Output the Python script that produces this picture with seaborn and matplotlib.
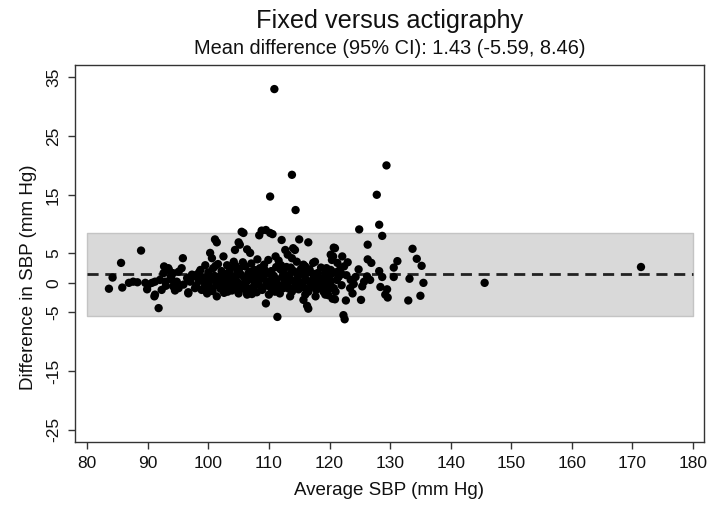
import matplotlib
matplotlib.use("Agg")
import matplotlib.pyplot as plt
import seaborn as sns
import pandas as pd

# ---- data ----
left_avg = [83.6, 84.2, 85.6, 85.8, 88.9, 86.9, 87.6, 88.3, 89.6, 90.1,
            89.9, 90.7, 91.2, 91.1, 91.2, 91.8, 92.0, 92.3, 92.6, 92.7,
            92.9, 93.4, 93.5, 94.0, 94.2, 94.2, 94.8, 95.1, 95.6, 95.8,
            95.9, 95.1, 96.5, 96.7, 97.3, 97.5, 96.7, 93.0, 93.8, 94.5]
left_diff = [-1.0, 0.9, 3.4, -0.8, 5.5, 0.0, 0.2, 0.1, 0.0, -0.3,
             -1.1, 0.0, 0.2, -2.3, -2.0, -4.3, 0.5, -1.2, 1.65, 2.8,
             0.2, 2.5, 2.2, 0.5, 1.65, -0.6, 0.2, -0.9, 2.5, 4.2,
             -0.3, 1.9, 0.8, -1.8, 1.4, 1.1, -1.6, -0.5, 1.0, -1.3]

core_avg = [98.1, 98.0, 98.4, 98.7, 98.9, 99.2, 99.5, 99.8, 99.6, 100.0,
            100.3, 100.6, 100.2, 100.5, 100.8, 101.1, 101.4, 101.4, 101.0, 101.3,
            101.6, 101.8, 102.0, 102.2, 102.5, 102.4, 102.7, 102.9, 103.1, 103.2,
            103.4, 103.6, 103.8, 104.0, 104.2, 104.4, 104.3, 104.6, 104.8, 105.0,
            105.2, 105.0, 105.3, 105.5, 105.8, 105.6, 105.9, 106.1, 106.4, 106.4,
            106.3, 106.6, 106.9, 106.9, 106.8, 107.1, 107.3, 107.5, 107.7, 107.6,
            107.9, 108.1, 108.4, 108.5, 108.3, 108.8, 108.6, 108.9, 109.1, 109.2,
            109.5, 109.5, 109.7, 109.9, 109.8, 110.2, 110.1, 110.4, 110.6, 110.5,
            110.8, 111.0, 111.1, 111.4, 111.3, 111.6, 111.7, 111.9, 112.1, 112.2,
            112.4, 112.7, 112.6, 112.9, 113.1, 113.2, 113.5, 113.4, 113.8, 113.8,
            113.7, 114.0, 114.3, 114.1, 114.4, 114.6, 114.7, 115.0, 115.3, 114.9,
            115.2, 115.5, 115.7, 115.7, 115.9, 116.0, 116.3, 116.5, 116.5, 116.5,
            116.2, 116.7, 117.0, 117.3, 117.6, 117.4, 117.9, 117.8, 118.1, 118.4,
            118.6, 119.0, 119.0, 119.3, 119.2, 119.5, 119.7, 120.0, 120.2, 120.2,
            120.2, 120.4, 120.5, 120.6, 120.7, 120.7, 120.9, 120.9, 121.2, 121.3,
            121.7, 122.1, 122.4, 122.3, 122.5, 122.7, 123.4, 123.5, 124.8, 124.9,
            125.2, 125.4, 125.7, 126.2, 126.3, 126.3, 126.7, 126.9, 128.2, 128.2,
            128.4, 128.7, 128.7, 129.2, 129.5, 129.6, 130.6, 130.6, 131.2, 133.0,
            133.2, 133.7, 134.4, 135.2, 135.5, 135.0, 120.2, 121.0, 122.0, 123.0]
core_diff = [1.4, -0.5, 0.3, 2.2, -1.2, 0.8, 3.0, -1.8, 0.0, 1.8,
             5.1, 4.2, -0.8, 0.5, 2.5, 7.4, 6.9, -2.3, 1.2, -0.4,
             3.2, 0.8, -1.0, 2.0, 4.5, 0.2, -0.5, 1.5, 3.0, -1.5,
             0.6, 2.4, -0.2, 1.1, 3.6, 5.6, -0.9, 0.4, 2.1, 6.9,
             6.5, -1.8, 1.5, 8.7, 8.5, -0.3, 0.9, 2.8, 5.7, -2.0,
             0.2, 1.6, 5.1, 1.9, -1.0, 3.3, 0.5, -0.6, -1.5, 2.2,
             1.0, 4.0, 8.1, 2.5, -0.2, 8.9, 0.7, -1.2, 0.8, 3.1,
             9.0, -3.5, 1.6, 3.9, -0.5, 8.5, 0.3, 2.0, 8.3, -1.3,
             1.2, -1.5, 4.5, -5.8, 0.6, 3.8, -0.4, 2.3, 7.3, 1.0,
             -0.9, 5.6, 0.0, 2.7, 4.8, -0.7, -2.3, 1.4, 4.2, -1.5,
             0.4, 5.9, 5.6, 2.0, -0.2, 3.6, 0.9, 7.4, 2.4, -1.1,
             1.8, 0.1, 3.1, -2.9, 1.2, -2.0, -3.9, 6.9, -1.5, -4.4,
             0.5, 2.3, -0.6, 3.4, 3.6, 0.9, 0.2, -1.2, 1.7, -0.4,
             2.6, -1.5, -0.3, -2.0, 1.0, 2.5, 0.3, -1.0, 4.8, 2.2,
             -0.6, 3.9, -2.7, 4.5, 6.0, -0.9, 5.9, -2.8, 0.5, 3.4,
             2.2, 4.5, 2.8, -5.5, -6.2, -3.0, -0.9, 0.5, 2.3, 9.1,
             -2.9, -0.6, 0.2, 1.1, 6.5, 4.0, 0.5, 3.4, 9.9, 2.0,
             -0.7, 8.0, 1.0, -2.0, -1.1, -2.5, 2.6, 1.0, 3.7, -3.0,
             0.7, 5.8, 4.1, 2.9, 0.0, -2.2, 0.2, 1.8, 1.5, 3.5]

extra_avg = [97.0, 97.8, 98.5, 99.0, 99.4, 99.9, 100.7, 101.2, 101.7, 102.1,
             102.6, 103.0, 103.5, 103.9, 104.5, 104.9, 105.4, 105.7, 106.0, 106.7,
             107.2, 107.8, 108.2, 108.8, 109.3, 109.6, 110.0, 110.3, 110.9, 111.2,
             111.8, 112.3, 112.8, 113.0, 113.6, 114.2, 114.8, 115.4, 116.0, 116.8,
             117.2, 117.7, 118.3, 118.8, 119.4, 119.9, 120.3, 121.0, 121.5, 122.0,
             122.8, 123.8, 124.3, 124.0,
             100.0, 101.5, 102.8, 103.7, 104.7, 105.1, 106.2, 107.0, 108.0, 109.0,
             110.7, 111.5, 112.0, 113.3, 114.5, 115.8, 116.4, 117.5, 118.9, 119.8]
extra_diff = [0.2, -0.9, 1.8, 0.4, -0.6, 1.0, -1.4, 2.9, -0.1, 1.3,
              -1.7, 0.0, 1.9, -1.3, 2.9, 0.0, -0.8, 3.5, -0.5, 0.9,
              -1.9, 0.1, 1.8, -0.8, 2.2, 0.1, -2.0, 1.5, 0.0, 2.7,
              -1.8, 1.9, -0.3, 1.1, 2.6, -0.9, 1.5, -0.5, 2.8, 0.0,
              1.6, -2.3, 0.6, -1.0, 1.8, 0.9, 1.5, -1.5, 1.0, -0.4,
              1.3, -1.8, 1.0, -0.2,
              -0.2, 0.3, 0.9, -0.6, 1.3, 2.4, -1.3, 1.2, -1.6, 1.7,
              -0.8, -1.2, 3.0, -1.0, 0.2, -0.8, 1.8, -0.3, 0.1, -2.1]

outlier_avg = [110.9, 113.8, 110.2, 114.4, 127.8, 129.4, 145.6, 171.4]
outlier_diff = [33.0, 18.4, 14.7, 12.4, 15.0, 20.0, 0.0, 2.7]

mean_diff = 1.43
loa_low = -5.59
loa_high = 8.46
band_x = [80, 180]

x_ticks = [80, 90, 100, 110, 120, 130, 140, 150, 160, 170, 180]
y_ticks = [-25, -15, -5, 0, 5, 15, 25, 35]

title = "Fixed versus actigraphy"
subtitle = "Mean difference (95% CI): 1.43 (-5.59, 8.46)"
x_label = "Average SBP (mm Hg)"
y_label = "Difference in SBP (mm Hg)"

df = pd.DataFrame({
    "avg": left_avg + core_avg + extra_avg + outlier_avg,
    "diff": left_diff + core_diff + extra_diff + outlier_diff,
})

# ---- style ----
sns.set_style("ticks")
plt.rcParams["font.family"] = ["Liberation Sans", "DejaVu Sans"]

fig = plt.figure(figsize=(7.21, 5.18), dpi=100)
ax = fig.add_axes([75 / 721, 1 - 442 / 518, (704 - 75) / 721, (442 - 65) / 518])

ax.fill_between(band_x, [loa_low, loa_low], [loa_high, loa_high],
                facecolor="#d9d9d9", edgecolor="#c4c4c4", linewidth=1.0, zorder=1)
ax.plot(band_x, [mean_diff, mean_diff], color="#222222", linewidth=2.0,
        dashes=(4, 2.4), zorder=2)

sns.scatterplot(data=df, x="avg", y="diff", ax=ax, color="black", s=36,
                linewidth=0, edgecolor="none", zorder=3, legend=False)

ax.set_xlim(78.0, 181.8)
ax.set_ylim(-27.1, 37.1)
ax.set_xticks(x_ticks)
ax.set_yticks(y_ticks)
ax.set_xticklabels([str(v) for v in x_ticks], fontsize=12.5)
ax.set_yticklabels([str(v) for v in y_ticks], fontsize=12.5, rotation=90, va="center")

ax.tick_params(axis="both", direction="out", length=5, width=1, color="#333333",
               labelcolor="#111111", pad=5)
for sp in ax.spines.values():
    sp.set_visible(True)
    sp.set_color("#333333")
    sp.set_linewidth(1.0)

ax.set_xlabel(x_label, fontsize=13.5, color="#111111", labelpad=8)
ax.set_ylabel(y_label, fontsize=13.5, color="#111111")
ax.yaxis.set_label_coords(-38 / 629, (442 - 277) / 377)

fig.text(389.5 / 721, 1 - 21 / 518, title, ha="center", va="center",
         fontsize=18.2, color="#111111")
fig.text(389.5 / 721, 1 - 48 / 518, subtitle, ha="center", va="center",
         fontsize=14.4, color="#111111")

fig.savefig("out.png", dpi=100, facecolor="white")
